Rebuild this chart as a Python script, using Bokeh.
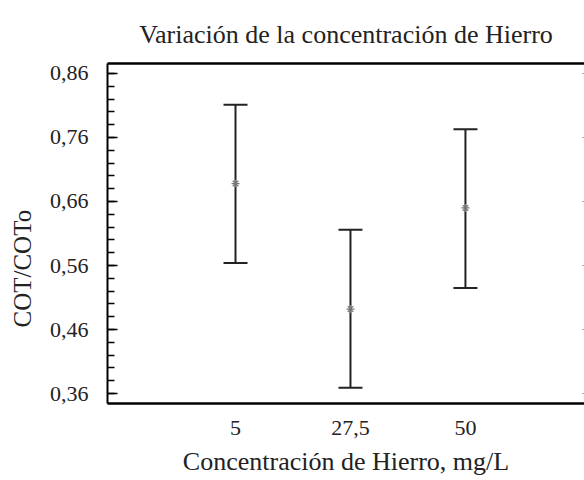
from bokeh.plotting import figure
from bokeh.models import (Whisker, TeeHead, ColumnDataSource, FixedTicker, LinearAxis,
                          CustomJSTickFormatter, Range1d, Title)
from bokeh.embed import file_html
from bokeh.resources import INLINE

# Data
concentrations = [5, 27.5, 50]
tick_labels = ["5", "27,5", "50"]
means = [0.688, 0.492, 0.650]
lower = [0.564, 0.369, 0.525]
upper = [0.811, 0.616, 0.773]
y_ticks = [0.36, 0.46, 0.56, 0.66, 0.76, 0.86]

FONT = "Liberation Serif"
TXT = "#222222"

src = ColumnDataSource(dict(x=concentrations, m=means, lo=lower, hi=upper))

p = figure(width=584, height=480, output_backend="svg", toolbar_location=None,
           x_range=Range1d(-20.05, 73.3), y_range=Range1d(0.3444, 0.8756),
           x_axis_location=None, y_axis_location=None,
           min_border_left=107, min_border_right=0, min_border_top=63, min_border_bottom=77,
           title="Variación de la concentración de Hierro")
p.grid.visible = False
p.outline_line_color = None
p.background_fill_color = "white"

p.title.text_font = FONT
p.title.text_font_size = "26px"
p.title.text_font_style = "normal"
p.title.text_color = TXT
p.title.align = "center"
p.title.vertical_align = "top"
p.title.offset = 4
p.title.standoff = 26

# left axis
ya = LinearAxis(ticker=FixedTicker(ticks=y_ticks,
                                   minor_ticks=[0.36 + 0.02 * i for i in range(26)]),
                formatter=CustomJSTickFormatter(code="return tick.toFixed(2).replace('.', ',');"))
ya.axis_line_width = 2
ya.axis_line_color = "black"
ya.major_tick_in = 10
ya.major_tick_out = 0
ya.minor_tick_in = 7
ya.minor_tick_out = 0
ya.major_tick_line_width = 1.5
ya.minor_tick_line_width = 1.5
ya.major_label_text_font = FONT
ya.major_label_text_font_size = "22px"
ya.major_label_text_color = TXT
ya.major_label_standoff = 19
p.add_layout(ya, "left")

# y axis title (as a side title so it can sit below the frame centre)
ytitle = Title(text="COT/COTo", align="left", vertical_align="top", offset=76, standoff=17,
               text_font=FONT, text_font_size="25px", text_font_style="normal",
               text_color=TXT)
p.add_layout(ytitle, "left")

# bottom axis
xa = LinearAxis(ticker=FixedTicker(ticks=concentrations, minor_ticks=[]),
                major_label_overrides={c: t for c, t in zip(concentrations, tick_labels)},
                axis_label="Concentración de Hierro, mg/L")
xa.axis_line_width = 2.5
xa.axis_line_color = "black"
xa.major_tick_in = 0
xa.major_tick_out = 0
xa.minor_tick_line_color = None
xa.major_label_text_font = FONT
xa.major_label_text_font_size = "22px"
xa.major_label_text_color = TXT
xa.major_label_standoff = 17
xa.axis_label_text_font = FONT
xa.axis_label_text_font_size = "26px"
xa.axis_label_text_font_style = "normal"
xa.axis_label_text_color = TXT
xa.axis_label_standoff = 9
p.add_layout(xa, "below")

# top axis (line only)
ta = LinearAxis(ticker=FixedTicker(ticks=[]))
ta.axis_line_width = 2.5
ta.axis_line_color = "black"
ta.major_tick_line_color = None
ta.minor_tick_line_color = None
p.add_layout(ta, "above")

# right axis (ticks only, mostly cropped)
ra = LinearAxis(ticker=FixedTicker(ticks=y_ticks, minor_ticks=[]),
                formatter=CustomJSTickFormatter(code="return '';"))
ra.axis_line_color = None
ra.major_tick_in = 2
ra.major_tick_out = 0
ra.major_tick_line_color = "#999999"
ra.minor_tick_line_color = None
p.add_layout(ra, "right")

# error bars
w = Whisker(source=src, base="x", lower="lo", upper="hi",
            line_color=TXT, line_width=2,
            upper_head=TeeHead(size=24, line_color=TXT, line_width=2),
            lower_head=TeeHead(size=24, line_color=TXT, line_width=2))
p.add_layout(w)

p.scatter("x", "m", source=src, marker="asterisk", size=8, line_color="#777777", line_width=1.2)

open("out.html", "w").write(file_html(p, INLINE))
